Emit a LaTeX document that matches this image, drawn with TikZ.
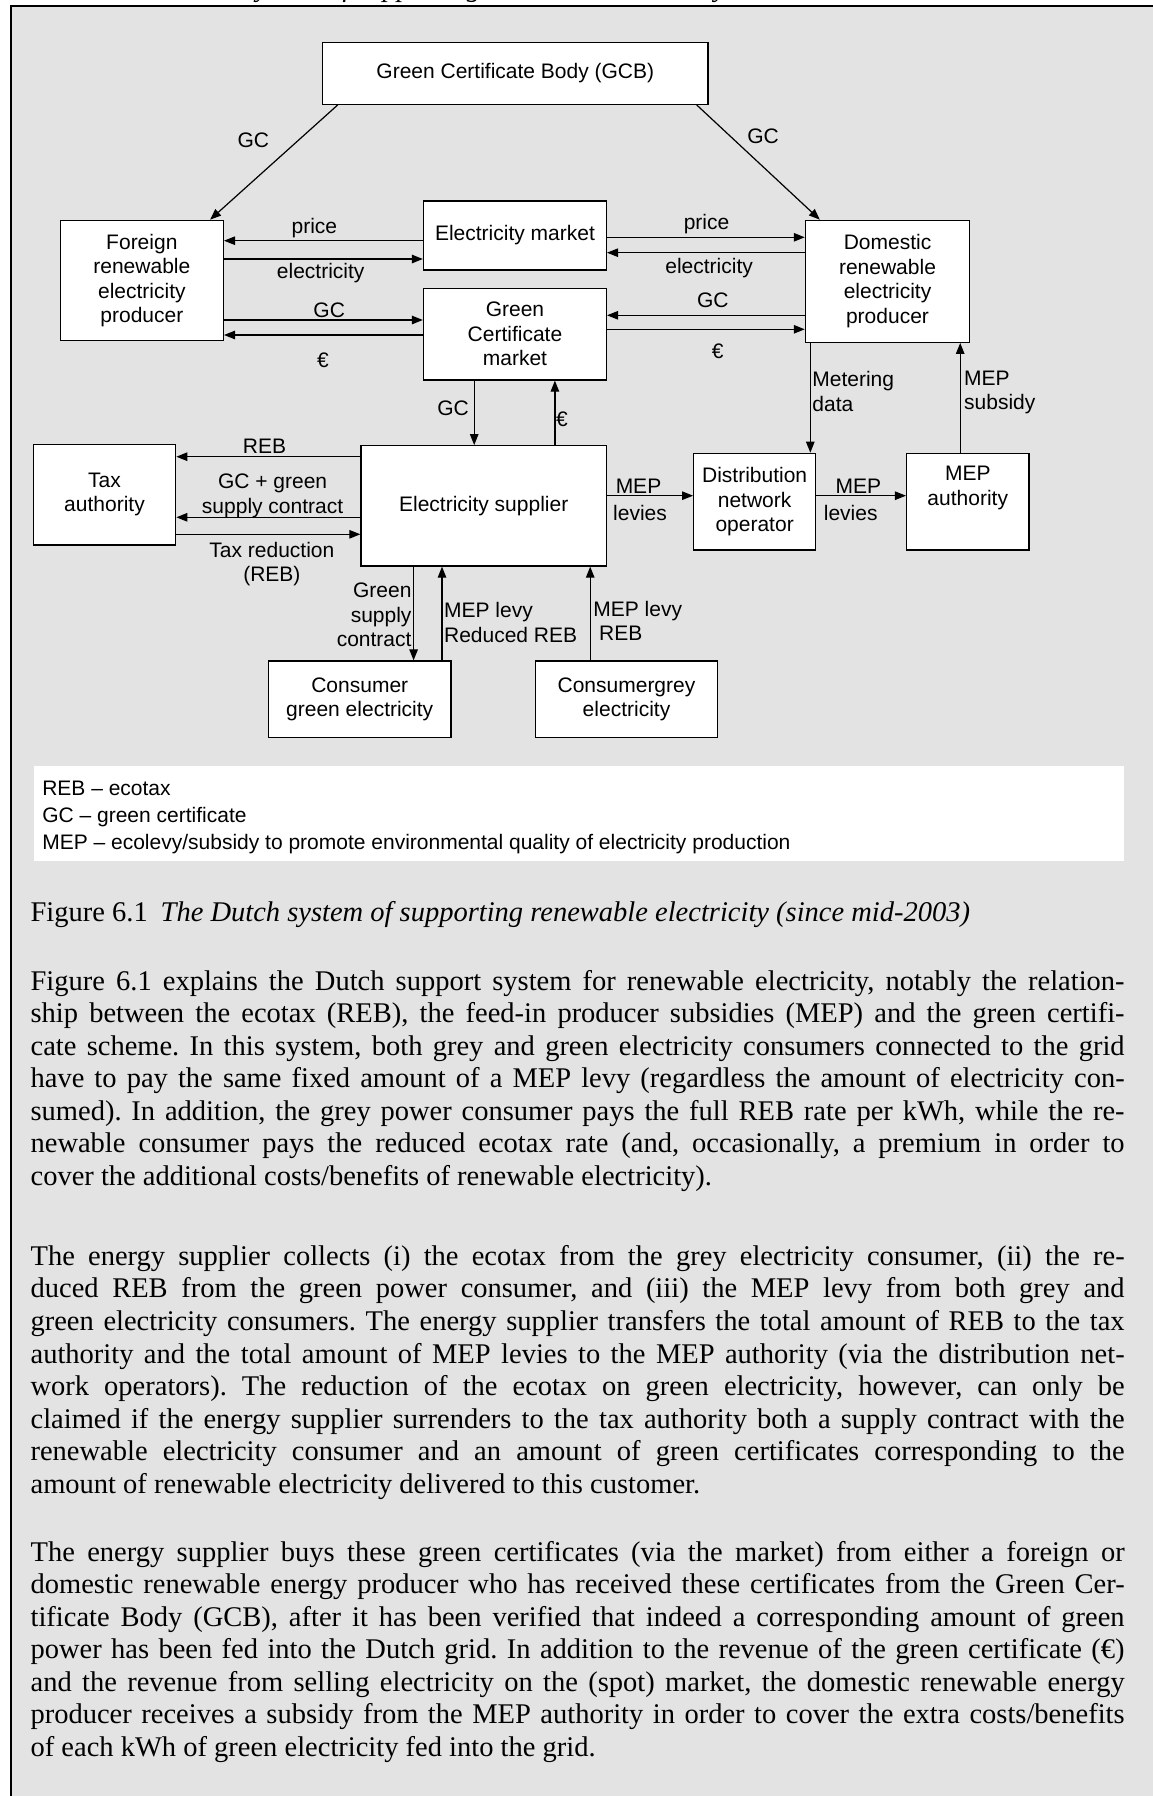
\documentclass[tikz,border=0pt]{standalone}
\usepackage{fontspec}
\setmainfont{Liberation Serif}
\newfontfamily\arialf{Liberation Sans}
\usetikzlibrary{arrows.meta}
\definecolor{bggrey}{RGB}{227,227,227}
\newcommand\dfont{\arialf\fontsize{21pt}{24.5pt}\selectfont}
\newcommand\bfontx{\fontsize{28.5pt}{32.5pt}\selectfont\frenchspacing}
\newcommand\jl[1]{\hbox to 1094pt{#1}}
\begin{document}
\frenchspacing
\begin{tikzpicture}[x=1pt,y=-1pt,
  box/.style={draw,fill=white,line width=1.3pt,inner sep=0pt,align=center,font=\dfont},
  lbl/.style={inner sep=0pt,font=\dfont,align=center},
  arr/.style={-{Triangle[length=11pt,width=8.5pt]},line width=1.2pt},
  para/.style={inner sep=0pt,anchor=base west,font=\bfontx}]
\useasboundingbox (0,0) rectangle (1152,1796);
\fill[bggrey] (11,5.7) rectangle (1160,1800);
\draw[line width=2pt] (11,1800) -- (11,5.7) -- (1160,5.7);
% cut-off text above the frame
\node[para] (toptxt) at (118.3,-3) {\itshape The Dutch system of supporting renewable electricity};

% boxes
\node[box,minimum width=385.4pt,minimum height=61.6pt] (gcb) at (515.3,73.5) {Green Certificate Body (GCB)};
\node[box,minimum width=163.1pt,minimum height=120.4pt] (foreign) at (141.85,280.5) {Foreign\\renewable\\electricity\\producer};
\node[box,minimum width=182.9pt,minimum height=69pt] (em) at (514.95,235.5) {Electricity market};
\node[box,minimum width=182.9pt,minimum height=91.7pt] (gcm) at (514.95,334.15) {Green\\Certificate\\market};
\node[box,minimum width=164.2pt,minimum height=122pt] (dom) at (887.5,281.3) {Domestic\\renewable\\electricity\\producer};
\node[box,minimum width=142.4pt,minimum height=100.7pt] (tax) at (104.5,494.65) {Tax\\authority};
\node[box,minimum width=245.4pt,minimum height=120.3pt] (sup) at (483.7,505.85) {Electricity supplier};
\node[box,minimum width=121.9pt,minimum height=96.7pt] (dno) at (754.65,501.65) {Distribution\\network\\operator};
\node[box,minimum width=122.3pt,minimum height=96.7pt] (mepa) at (967.75,501.65) {MEP\\authority\\\strut};
\node[box,minimum width=182.3pt,minimum height=76.3pt] (cgreen) at (359.75,699.15) {Consumer\\green electricity};
\node[box,minimum width=182.6pt,minimum height=76.3pt] (cgrey) at (626.5,699.15) {Consumergrey\\electricity};

% connectors
\draw[arr] (337.7,0 |- gcb.south) -- (210.1,0 |- foreign.north);
\draw[arr] (696.7,0 |- gcb.south) -- (819.8,0 |- dom.north);
\draw[arr] (em.west |- 0,240.7) -- (foreign.east |- 0,240.7);
\draw[arr] (foreign.east |- 0,259) -- (em.west |- 0,259);
\draw[arr] (foreign.east |- 0,320) -- (gcm.west |- 0,320);
\draw[arr] (gcm.west |- 0,335) -- (foreign.east |- 0,335);
\draw[arr] (em.east |- 0,237.3) -- (dom.west |- 0,237.3);
\draw[arr] (dom.west |- 0,252.7) -- (em.east |- 0,252.7);
\draw[arr] (dom.west |- 0,315.3) -- (gcm.east |- 0,315.3);
\draw[arr] (gcm.east |- 0,329.3) -- (dom.west |- 0,329.3);
\draw[arr] (gcm.south -| 474.2,0) -- (sup.north -| 474.2,0);
\draw[arr] (sup.north -| 554.9,0) -- (gcm.south -| 554.9,0);
\draw[arr] (sup.west |- 0,456.7) -- (tax.east |- 0,456.7);
\draw[arr] (sup.west |- 0,517.3) -- (tax.east |- 0,517.3);
\draw[arr] (tax.east |- 0,534.3) -- (sup.west |- 0,534.3);
\draw[arr] (sup.south -| 413.6,0) -- (cgreen.north -| 413.6,0);
\draw[arr] (cgreen.north -| 442,0) -- (sup.south -| 442,0);
\draw[arr] (cgrey.north -| 590.2,0) -- (sup.south -| 590.2,0);
\draw[arr] (sup.east |- 0,495.7) -- (dno.west |- 0,495.7);
\draw[arr] (dno.east |- 0,495.7) -- (mepa.west |- 0,495.7);
\draw[arr] (dom.south -| 810.3,0) -- (dno.north -| 810.3,0);
\draw[arr] (mepa.north -| 960.2,0) -- (dom.south -| 960.2,0);

% connector labels
\node[lbl] (lgc1) at (253.4,140) {GC};
\node[lbl] (lgc2) at (763.1,136) {GC};
\node[lbl] (lpr1) at (314.4,227.7) {price};
\node[lbl] (lel1) at (320.7,273.3) {electricity};
\node[lbl] (lgc3) at (329.2,310.7) {GC};
\node[lbl] (leu1) at (322.9,360.7) {€};
\node[lbl] (lpr2) at (706.5,224.3) {price};
\node[lbl] (lel2) at (709.1,268.3) {electricity};
\node[lbl] (lgc4) at (712.9,300) {GC};
\node[lbl] (leu2) at (717.8,351.7) {€};
\node[lbl] (lgc5) at (453.1,408) {GC};
\node[lbl] (leu3) at (562,419) {€};
\node[lbl,anchor=west,align=left] (lmet) at (812.2,391.7) {Metering\\data};
\node[lbl,anchor=west,align=left] (lsub) at (964,392.5) {MEP\\subsidy};
\node[lbl] (lreb) at (264.5,446.7) {REB};
\node[lbl] (lgcc) at (272.6,496) {GC + green\\supply contract};
\node[lbl] (ltr) at (271.9,564) {Tax reduction\\(REB)};
\node[lbl,anchor=east,align=right] (lgsc) at (411.7,615) {Green\\supply\\contract};
\node[lbl,anchor=west,align=left] (lmr) at (443.9,622.5) {MEP levy\\Reduced REB};
\node[lbl,anchor=west,align=left] (lmg) at (593.2,621) {MEP levy\\\hspace*{5.7pt}REB};
\node[lbl] (lm1) at (638.5,486) {MEP};
\node[lbl] (lv1) at (640,513.3) {levies};
\node[lbl] (lm2) at (858.3,486) {MEP};
\node[lbl] (lv2) at (850.7,513.3) {levies};

% legend
\node[fill=white,inner sep=0pt,minimum width=1090.1pt,minimum height=94.7pt,anchor=north west] (leg) at (33.9,766) {};
\node[lbl,anchor=base west] (leg1) at (42.1,795) {REB – ecotax};
\node[lbl,anchor=base west] (leg2) at (42.1,822) {GC – green certificate};
\node[lbl,anchor=base west] (leg3) at (42.1,849) {MEP – ecolevy/subsidy to promote environmental quality of electricity production};

% caption
\node[para] (cap) at (30.4,921.7) {Figure 6.1\hspace{12.9pt}\textit{The Dutch system of supporting renewable electricity (since mid-2003)}};

% paragraphs
\node[para] (p1) at (30.4,990) {\vtop{\baselineskip=32.5pt
\jl{Figure 6.1 explains the Dutch support system for renewable electricity, notably the relation-}
\jl{ship between the ecotax (REB), the feed-in producer subsidies (MEP) and the green certifi-}
\jl{cate scheme. In this system, both grey and green electricity consumers connected to the grid}
\jl{have to pay the same fixed amount of a MEP levy (regardless the amount of electricity con-}
\jl{sumed). In addition, the grey power consumer pays the full REB rate per kWh, while the re-}
\jl{newable consumer pays the reduced ecotax rate (and, occasionally, a premium in order to}
\hbox{cover the additional costs/benefits of renewable electricity).}}};

\node[para] (p2) at (30.4,1265.3) {\vtop{\baselineskip=32.6pt
\jl{The energy supplier collects (i) the ecotax from the grey electricity consumer, (ii) the re-}
\jl{duced REB from the green power consumer, and (iii) the MEP levy from both grey and}
\jl{green electricity consumers. The energy supplier transfers the total amount of REB to the tax}
\jl{authority and the total amount of MEP levies to the MEP authority (via the distribution net-}
\jl{work operators). The reduction of the ecotax on green electricity, however, can only be}
\jl{claimed if the energy supplier surrenders to the tax authority both a supply contract with the}
\jl{renewable electricity consumer and an amount of green certificates corresponding to the}
\hbox{amount of renewable electricity delivered to this customer.}}};

\node[para] (p3) at (30.4,1561) {\vtop{\baselineskip=32.5pt
\jl{The energy supplier buys these green certificates (via the market) from either a foreign or}
\jl{domestic renewable energy producer who has received these certificates from the Green Cer-}
\jl{tificate Body (GCB), after it has been verified that indeed a corresponding amount of green}
\jl{power has been fed into the Dutch grid. In addition to the revenue of the green certificate (€)}
\jl{and the revenue from selling electricity on the (spot) market, the domestic renewable energy}
\jl{producer receives a subsidy from the MEP authority in order to cover the extra costs/benefits}
\hbox{of each kWh of green electricity fed into the grid.}}};
\end{tikzpicture}
\end{document}
